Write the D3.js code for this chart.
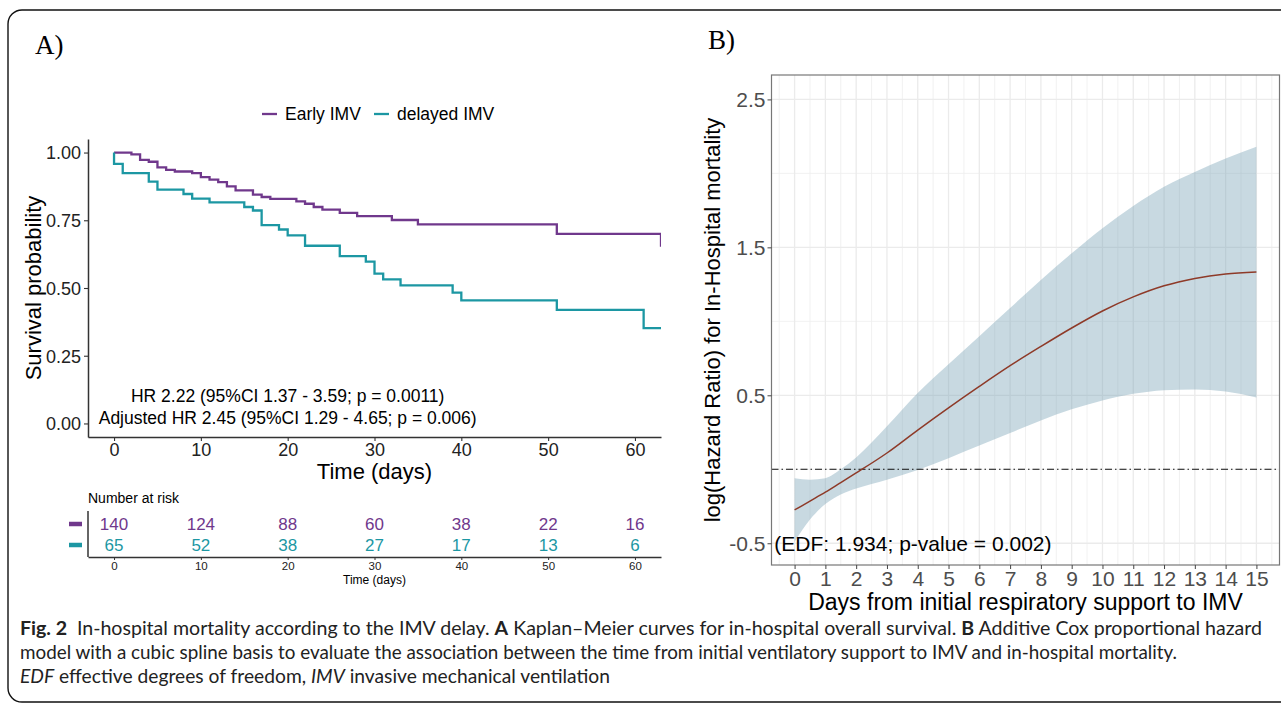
<!DOCTYPE html>
<html>
<head>
<meta charset="utf-8">
<script src="https://cdn.jsdelivr.net/npm/d3@7"></script>
<style>
  body { margin: 0; background: #fff; }
  svg { display: block; font-family: "Liberation Sans", Arial, sans-serif; }
</style>
</head>
<body>
<div id="chart"></div>
<script>
// ---- data ----
// panel A: Kaplan-Meier steps
const earlyTime = [0, 2, 3, 4, 5, 6, 7, 9, 10, 11, 12, 13, 14, 16, 17, 18, 21, 22, 23, 24, 26, 28, 32, 35, 51, 63];
const earlySurv = [1.0, 0.993, 0.973, 0.966, 0.945, 0.936, 0.930, 0.924, 0.909, 0.900, 0.891, 0.875, 0.860, 0.845, 0.836, 0.829, 0.820, 0.811, 0.799, 0.789, 0.777, 0.765, 0.751, 0.735, 0.700, 0.652];
const delayedTime = [0, 0, 1, 4, 5, 8, 9, 11, 15, 16, 17, 19, 20, 22, 26, 29, 30, 31, 33, 39, 40, 51, 61, 63];
const delayedSurv = [1.0, 0.958, 0.924, 0.893, 0.863, 0.847, 0.830, 0.816, 0.799, 0.786, 0.732, 0.716, 0.694, 0.656, 0.618, 0.597, 0.553, 0.532, 0.510, 0.483, 0.454, 0.419, 0.352, 0.352];
const groups = ["Early IMV", "delayed IMV"];

// number at risk table
const riskTimes = [0, 10, 20, 30, 40, 50, 60];
const earlyRisk = [140, 124, 88, 60, 38, 22, 16];
const delayedRisk = [65, 52, 38, 27, 17, 13, 6];

const survTicks = [0, 0.25, 0.5, 0.75, 1];
const timeTicks = [0, 10, 20, 30, 40, 50, 60];
const hrLines = ["HR 2.22 (95%CI 1.37 - 3.59; p = 0.0011)",
                 "Adjusted HR 2.45 (95%CI 1.29 - 4.65; p = 0.006)"];

// panel B: spline estimate and 95% band
const bDays  = [0, 0.5, 1, 1.5, 2, 3, 4, 5, 6, 7, 8, 9, 10, 11, 12, 13, 14, 15];
const bFit   = [-0.275, -0.215, -0.155, -0.09, -0.025, 0.11, 0.265, 0.415, 0.56, 0.70, 0.83, 0.955, 1.07, 1.165, 1.24, 1.29, 1.32, 1.333];
const bUpper = [-0.06, -0.07, -0.06, 0.0, 0.08, 0.29, 0.515, 0.71, 0.90, 1.09, 1.28, 1.46, 1.63, 1.78, 1.91, 2.01, 2.10, 2.18];
const bLower = [-0.49, -0.34, -0.235, -0.17, -0.13, -0.07, -0.005, 0.075, 0.16, 0.245, 0.33, 0.405, 0.465, 0.51, 0.535, 0.54, 0.525, 0.485];
const bYTicks = [-0.5, 0.5, 1.5, 2.5];
const bYMinor = [0, 1, 2];
const bXTicks = d3.range(0, 16);
const edfLabel = "(EDF: 1.934; p-value = 0.002)";

const purple = "#70388c", teal = "#1c97a3";

var svg = d3.select("#chart").append("svg")
  .attr("width", 1281).attr("height", 704);

// outer frame
svg.append("rect")
  .attr("x", 8).attr("y", 10).attr("width", 1300).attr("height", 692)
  .attr("rx", 14).attr("fill", "none").attr("stroke", "#111").attr("stroke-width", 1.4);

svg.append("text").attr("x", 35).attr("y", 54)
  .style("font-family", "'Liberation Serif', serif").style("font-size", "27px").text("A)");
svg.append("text").attr("x", 708).attr("y", 49)
  .style("font-family", "'Liberation Serif', serif").style("font-size", "27px").text("B)");

// ================= panel A =================
var aLeft = 88, aRight = 661, aTop = 139, aBottom = 437;
var xA = d3.scaleLinear().domain([-3, 63]).range([aLeft, aRight]);
var yA = d3.scaleLinear().domain([-0.05, 1.05]).range([aBottom, aTop]);

svg.append("clipPath").attr("id", "clipA").append("rect")
  .attr("x", aLeft).attr("y", aTop).attr("width", aRight - aLeft).attr("height", aBottom - aTop);

var kmLine = d3.line().curve(d3.curveStepAfter)
  .x(d => xA(d[0])).y(d => yA(d[1]));

var kmData = [
  {name: groups[0], color: purple, pts: d3.zip(earlyTime, earlySurv)},
  {name: groups[1], color: teal, pts: d3.zip(delayedTime, delayedSurv)}
];

svg.append("g").attr("clip-path", "url(#clipA)")
  .selectAll("path").data(kmData).enter().append("path")
  .attr("d", d => kmLine(d.pts))
  .attr("fill", "none").attr("stroke", d => d.color).attr("stroke-width", 2.3);

var axA = svg.append("g").attr("transform", `translate(${aLeft},0)`)
  .call(d3.axisLeft(yA).tickValues(survTicks).tickFormat(d3.format(".2f")).tickSize(4).tickPadding(3).tickSizeOuter(0));
var axB = svg.append("g").attr("transform", `translate(0,${aBottom})`)
  .call(d3.axisBottom(xA).tickValues(timeTicks).tickSize(4).tickPadding(2).tickSizeOuter(0));
[axA, axB].forEach(g => {
  g.select(".domain").attr("stroke", "#333").attr("stroke-width", 1.5);
  g.selectAll(".tick line").attr("stroke", "#333").attr("stroke-width", 1.1);
  g.selectAll(".tick text").attr("fill", "#222").style("font-size", "18px").style("font-family", "'Liberation Sans', Arial, sans-serif");
});
axA.selectAll(".tick text").attr("dy", "0.35em");

svg.append("text").attr("transform", `translate(33,${(aTop + aBottom) / 2}) rotate(-90)`)
  .attr("text-anchor", "middle").attr("dy", "0.35em").style("font-size", "22px").text("Survival probability");
svg.append("text").attr("x", (aLeft + aRight) / 2).attr("y", 471)
  .attr("text-anchor", "middle").attr("dy", "0.35em").style("font-size", "22px").text("Time (days)");

svg.append("g").selectAll("text").data(hrLines).enter().append("text")
  .attr("x", xA(20)).attr("y", (d, i) => 396 + i * 22)
  .attr("text-anchor", "middle").attr("dy", "0.35em").style("font-size", "17.5px").text(d => d);

// legend
var leg = svg.append("g").attr("transform", "translate(262,114)");
var legX = [0, 112];
kmData.forEach((d, i) => {
  leg.append("line").attr("x1", legX[i]).attr("x2", legX[i] + 15).attr("y1", 0).attr("y2", 0)
    .attr("stroke", d.color).attr("stroke-width", 2.3);
  leg.append("text").attr("x", legX[i] + 23).attr("y", 0).attr("dy", "0.35em")
    .style("font-size", "17.5px").text(d.name);
});

// number at risk table
var rowY = [524, 545];
var tableBottom = 557;
svg.append("text").attr("x", aLeft).attr("y", 498).attr("dy", "0.35em")
  .style("font-size", "14px").text("Number at risk");
[earlyRisk, delayedRisk].forEach((row, r) => {
  svg.append("g").selectAll("text").data(row).enter().append("text")
    .attr("x", (d, i) => xA(riskTimes[i])).attr("y", rowY[r]).attr("dy", "0.35em")
    .attr("text-anchor", "middle").attr("fill", kmData[r].color)
    .style("font-size", "17px").text(d => d);
  svg.append("line").attr("x1", 69).attr("x2", 82).attr("y1", rowY[r]).attr("y2", rowY[r])
    .attr("stroke", kmData[r].color).attr("stroke-width", 4.5);
});
svg.append("line").attr("x1", aLeft).attr("x2", aLeft).attr("y1", 511).attr("y2", tableBottom)
  .attr("stroke", "#333").attr("stroke-width", 1.5);
var axR = svg.append("g").attr("transform", `translate(0,${tableBottom})`)
  .call(d3.axisBottom(xA).tickValues(timeTicks).tickSize(3).tickPadding(2).tickSizeOuter(0));
axR.select(".domain").attr("stroke", "#333").attr("stroke-width", 1.5);
axR.selectAll(".tick line").attr("stroke", "#333");
axR.selectAll(".tick text").attr("fill", "#222").style("font-size", "11.5px").style("font-family", "'Liberation Sans', Arial, sans-serif");
svg.append("text").attr("x", (aLeft + aRight) / 2).attr("y", 580).attr("dy", "0.35em")
  .attr("text-anchor", "middle").style("font-size", "12px").text("Time (days)");

// ================= panel B =================
var bLeft = 771.5, bRight = 1279.5, bTop = 75, bBottom = 565;
var xB = d3.scaleLinear().domain([-0.75, 15.75]).range([bLeft, bRight]);
var yB = d3.scaleLinear().domain([-0.647, 2.665]).range([bBottom, bTop]);

var grid = svg.append("g");
grid.selectAll(".vmin").data(d3.range(-0.5, 16, 1)).enter().append("line")
  .attr("x1", d => xB(d)).attr("x2", d => xB(d)).attr("y1", bTop).attr("y2", bBottom)
  .attr("stroke", "#eeeeee").attr("stroke-width", 0.8);
grid.selectAll(".hmin").data(bYMinor).enter().append("line")
  .attr("x1", bLeft).attr("x2", bRight).attr("y1", d => yB(d)).attr("y2", d => yB(d))
  .attr("stroke", "#eeeeee").attr("stroke-width", 0.8);
grid.selectAll(".vmaj").data(bXTicks).enter().append("line")
  .attr("x1", d => xB(d)).attr("x2", d => xB(d)).attr("y1", bTop).attr("y2", bBottom)
  .attr("stroke", "#ebebeb").attr("stroke-width", 1.3);
grid.selectAll(".hmaj").data(bYTicks).enter().append("line")
  .attr("x1", bLeft).attr("x2", bRight).attr("y1", d => yB(d)).attr("y2", d => yB(d))
  .attr("stroke", "#ebebeb").attr("stroke-width", 1.3);

var band = d3.area().curve(d3.curveMonotoneX)
  .x(d => xB(d[0])).y0(d => yB(d[1])).y1(d => yB(d[2]));
svg.append("path").datum(d3.zip(bDays, bLower, bUpper))
  .attr("d", band).attr("fill", "rgb(118,160,180)").attr("fill-opacity", 0.4);

svg.append("line").attr("x1", bLeft).attr("x2", bRight).attr("y1", yB(0)).attr("y2", yB(0))
  .attr("stroke", "#111").attr("stroke-width", 1).attr("stroke-dasharray", "7,3,1.5,3");

var fitLine = d3.line().curve(d3.curveMonotoneX).x(d => xB(d[0])).y(d => yB(d[1]));
svg.append("path").datum(d3.zip(bDays, bFit))
  .attr("d", fitLine).attr("fill", "none").attr("stroke", "#8e3a28").attr("stroke-width", 1.5);

svg.append("text").attr("x", xB(-0.66)).attr("y", yB(-0.5)).attr("dy", "0.35em")
  .style("font-size", "21px").text(edfLabel);

svg.append("rect").attr("x", bLeft).attr("y", bTop).attr("width", bRight - bLeft).attr("height", bBottom - bTop)
  .attr("fill", "none").attr("stroke", "#777").attr("stroke-width", 1.2);

var byAx = svg.append("g").attr("transform", `translate(${bLeft},0)`)
  .call(d3.axisLeft(yB).tickValues(bYTicks).tickFormat(d => d.toFixed(1)).tickSize(4).tickPadding(2));
var bxAx = svg.append("g").attr("transform", `translate(0,${bBottom})`)
  .call(d3.axisBottom(xB).tickValues(bXTicks).tickSize(4).tickPadding(2));
[byAx, bxAx].forEach(g => {
  g.select(".domain").remove();
  g.selectAll(".tick line").attr("stroke", "#444");
  g.selectAll(".tick text").attr("fill", "#4d4d4d").style("font-size", "21px").style("font-family", "'Liberation Sans', Arial, sans-serif");
});
byAx.selectAll(".tick text").attr("dy", "0.35em");

svg.append("text").attr("transform", `translate(712,${(bTop + bBottom) / 2}) rotate(-90)`)
  .attr("text-anchor", "middle").attr("dy", "0.35em").style("font-size", "22px")
  .text("log(Hazard Ratio) for In-Hospital mortality");
svg.append("text").attr("x", (bLeft + bRight) / 2).attr("y", 602).attr("dy", "0.35em")
  .attr("text-anchor", "middle").style("font-size", "23px").text("Days from initial respiratory support to IMV");

// ================= caption =================
var cap = svg.append("g").style("font-family", "Lato, 'Open Sans', sans-serif").style("font-size", "19px").attr("fill", "#222");
var l1 = cap.append("text").attr("x", 20).attr("y", 635).attr("textLength", 1242).attr("lengthAdjust", "spacingAndGlyphs");
l1.append("tspan").style("font-weight", "bold").text("Fig. 2");
l1.append("tspan").text("\u2002In-hospital mortality according to the IMV delay. ");
l1.append("tspan").style("font-weight", "bold").text("A");
l1.append("tspan").text(" Kaplan\u2013Meier curves for in-hospital overall survival. ");
l1.append("tspan").style("font-weight", "bold").text("B");
l1.append("tspan").text(" Additive Cox proportional hazard");
cap.append("text").attr("x", 20).attr("y", 659).attr("textLength", 1157).attr("lengthAdjust", "spacingAndGlyphs")
  .text("model with a cubic spline basis to evaluate the association between the time from initial ventilatory support to IMV and in-hospital mortality.");
var l3 = cap.append("text").attr("x", 20).attr("y", 683).attr("textLength", 590).attr("lengthAdjust", "spacingAndGlyphs");
l3.append("tspan").style("font-style", "italic").text("EDF");
l3.append("tspan").text(" effective degrees of freedom, ");
l3.append("tspan").style("font-style", "italic").text("IMV");
l3.append("tspan").text(" invasive mechanical ventilation");
</script>
</body>
</html>
